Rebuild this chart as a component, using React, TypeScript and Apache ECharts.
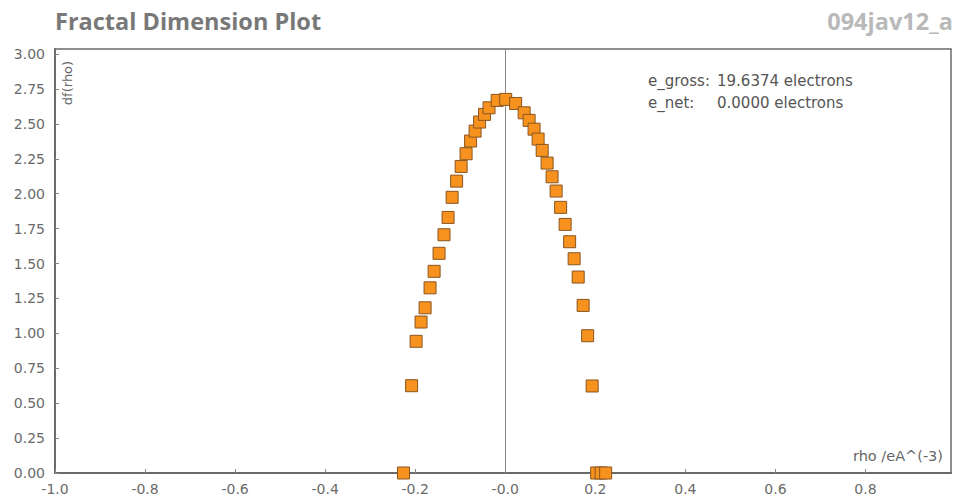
import React, { useEffect, useRef } from "react";
import * as echarts from "echarts";

const rhoValues: number[] = [
  -0.226, -0.208, -0.198, -0.187, -0.178, -0.167, -0.158, -0.147, -0.136, -0.127,
  -0.118, -0.108, -0.098, -0.087, -0.077, -0.067, -0.057, -0.046, -0.036, -0.018,
  0.001, 0.023, 0.042, 0.053, 0.064, 0.073, 0.082, 0.093, 0.104, 0.113,
  0.123, 0.133, 0.143, 0.153, 0.162, 0.173, 0.183, 0.193, 0.203, 0.213, 0.223,
];
const dfValues: number[] = [
  0.0, 0.625, 0.943, 1.081, 1.183, 1.326, 1.444, 1.573, 1.706, 1.83,
  1.974, 2.09, 2.195, 2.286, 2.377, 2.448, 2.513, 2.568, 2.615, 2.668,
  2.675, 2.646, 2.579, 2.525, 2.462, 2.391, 2.31, 2.219, 2.121, 2.019,
  1.902, 1.78, 1.656, 1.534, 1.403, 1.2, 0.983, 0.623, 0.0, 0.0, 0.0,
];
const xTickValues: number[] = [-1.0, -0.8, -0.6, -0.4, -0.2, 0.0, 0.2, 0.4, 0.6, 0.8];
const xTickLabels: string[] = ["-1.0", "-0.8", "-0.6", "-0.4", "-0.2", "-0.0", "0.2", "0.4", "0.6", "0.8"];
const yTickLabels: string[] = ["0.00", "0.25", "0.50", "0.75", "1.00", "1.25", "1.50", "1.75", "2.00", "2.25", "2.50", "2.75", "3.00"];

const titleText = "Fractal Dimension Plot";
const idText = "094jav12_a";
const annotationKeys = ["e_gross:", "e_net:"];
const annotationValues = ["19.6374 electrons", "0.0000 electrons"];
const xName = "rho /eA^(-3)";
const yName = "df(rho)";

const FONT = "'DejaVu Sans', sans-serif";
const TITLE_FONT = "'Open Sans', 'Noto Sans', sans-serif";

export default function App() {
  const ref = useRef<HTMLDivElement>(null);
  useEffect(() => {
    if (!ref.current) return;
    const chart = echarts.init(ref.current, null, { renderer: "svg" });
    const data = rhoValues.map((x, i) => [x, dfValues[i]]);
    const xLabel = (v: number) => {
      const idx = xTickValues.findIndex((t) => Math.abs(t - v) < 1e-6);
      return idx >= 0 ? xTickLabels[idx] : "";
    };
    const yLabel = (v: number) => {
      const idx = Math.round(v / 0.25);
      return Math.abs(idx * 0.25 - v) < 1e-6 && yTickLabels[idx] ? yTickLabels[idx] : "";
    };
    chart.setOption({
      animation: false,
      backgroundColor: "#ffffff",
      grid: {
        left: 55,
        right: 6,
        top: 49,
        bottom: 29,
        show: true,
        borderColor: "#6a6a6a",
        borderWidth: 1.5,
        backgroundColor: "transparent",
      },
      xAxis: {
        type: "value",
        min: -1.0,
        max: 0.99,
        interval: 0.2,
        axisLine: { show: true, onZero: false, lineStyle: { color: "#6a6a6a", width: 2 } },
        axisTick: { show: true, inside: true, length: 4, lineStyle: { color: "#888" } },
        splitLine: { show: false },
        axisLabel: {
          formatter: xLabel,
          color: "#6a6a6a",
          fontSize: 14,
          fontFamily: FONT,
          margin: 9,
          showMaxLabel: false,
        },
      },
      yAxis: {
        type: "value",
        min: 0,
        max: 3.036,
        interval: 0.25,
        axisLine: { show: true, onZero: false, lineStyle: { color: "#6a6a6a", width: 2 } },
        axisTick: { show: true, inside: true, length: 4, lineStyle: { color: "#888" } },
        splitLine: { show: false },
        axisLabel: {
          formatter: yLabel,
          color: "#6a6a6a",
          fontSize: 14,
          fontFamily: FONT,
          margin: 10,
          showMaxLabel: false,
        },
      },
      series: [
        {
          type: "scatter",
          data,
          symbol: "rect",
          symbolSize: 12,
          itemStyle: { color: "#f7921e", borderColor: "#8a5520", borderWidth: 1, opacity: 1 },
          markLine: {
            silent: true,
            symbol: "none",
            label: { show: false },
            lineStyle: { color: "#8a8a8a", width: 1, type: "solid", opacity: 1 },
            data: [{ xAxis: 0 }],
            z: 1,
          },
          z: 3,
        },
      ],
      graphic: [
        {
          type: "text",
          left: 55,
          top: 9,
          style: { text: titleText, fill: "#787878", font: `bold 23.5px ${TITLE_FONT}` },
        },
        {
          type: "text",
          right: 4,
          top: 9,
          style: { text: idText, fill: "#b9b9b9", font: `bold 23.5px ${TITLE_FONT}` },
        },
        ...annotationKeys.flatMap((k, i) => [
          {
            type: "text",
            x: 648,
            y: 81 + i * 22,
            style: {
              text: k,
              fill: "#555",
              font: `15px ${FONT}`,
              verticalAlign: "middle",
            },
          },
          {
            type: "text",
            x: 717,
            y: 81 + i * 22,
            style: {
              text: annotationValues[i],
              fill: "#555",
              font: `15px ${FONT}`,
              verticalAlign: "middle",
            },
          },
        ]),
        {
          type: "text",
          x: 943,
          y: 456,
          style: {
            text: xName,
            fill: "#666",
            font: `14.5px ${FONT}`,
            align: "right",
            verticalAlign: "middle",
          },
        },
        {
          type: "text",
          x: 67,
          y: 83,
          rotation: Math.PI / 2,
          style: {
            text: yName,
            fill: "#666",
            font: `13px ${FONT}`,
            align: "center",
            verticalAlign: "middle",
          },
        },
      ],
    });
    return () => chart.dispose();
  }, []);
  return <div ref={ref} style={{ width: 957, height: 502, position: "absolute", left: 0, top: 0 }} />;
}
